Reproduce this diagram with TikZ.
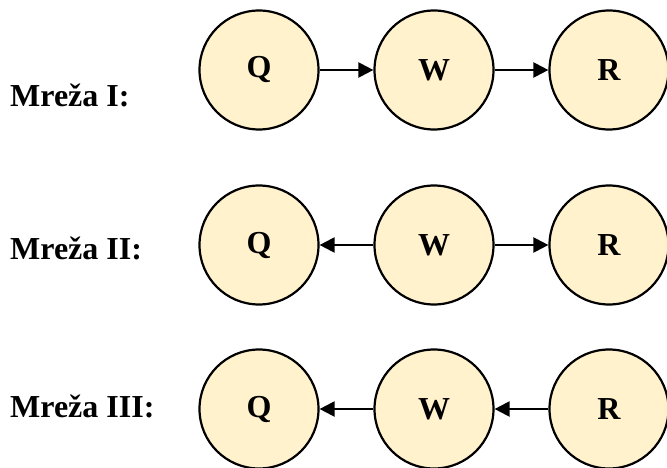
\documentclass[tikz,border=0pt]{standalone}
\usepackage{fontspec}
\setmainfont{Liberation Serif}
\usetikzlibrary{arrows.meta}
\begin{document}
\begin{tikzpicture}[x=1pt,y=-1pt,
  var/.style={circle,draw=black,line width=2.2pt,fill=yellowfill,minimum size=119pt,inner sep=0pt,
    font=\fontsize{32}{36}\selectfont\bfseries},
  lbl/.style={anchor=west,inner sep=0pt,font=\fontsize{32}{36}\selectfont\bfseries},
  edge/.style={line width=2.2pt,-{Triangle[length=15pt,width=15pt]}}]
\definecolor{yellowfill}{HTML}{FFF2CC}
\useasboundingbox (0,0) rectangle (667,468);
% row 1
\node[lbl] (l1) at (10,95) {Mreža I:};
\node[var] (q1) at (259,70) {Q};
\node[var] (w1) at (434,70) {W};
\node[var] (r1) at (609,70) {R};
\draw[edge] (q1) -- (w1);
\draw[edge] (w1) -- (r1);
% row 2
\node[lbl] (l2) at (10,248) {Mreža II:};
\node[var] (q2) at (259,245) {Q};
\node[var] (w2) at (434,245) {W};
\node[var] (r2) at (609,245) {R};
\draw[edge] (w2) -- (q2);
\draw[edge] (w2) -- (r2);
% row 3
\node[lbl] (l3) at (10,406) {Mreža III:};
\node[var] (q3) at (259,409) {Q};
\node[var] (w3) at (434,409) {W};
\node[var] (r3) at (609,409) {R};
\draw[edge] (w3) -- (q3);
\draw[edge] (r3) -- (w3);
\end{tikzpicture}
\end{document}
